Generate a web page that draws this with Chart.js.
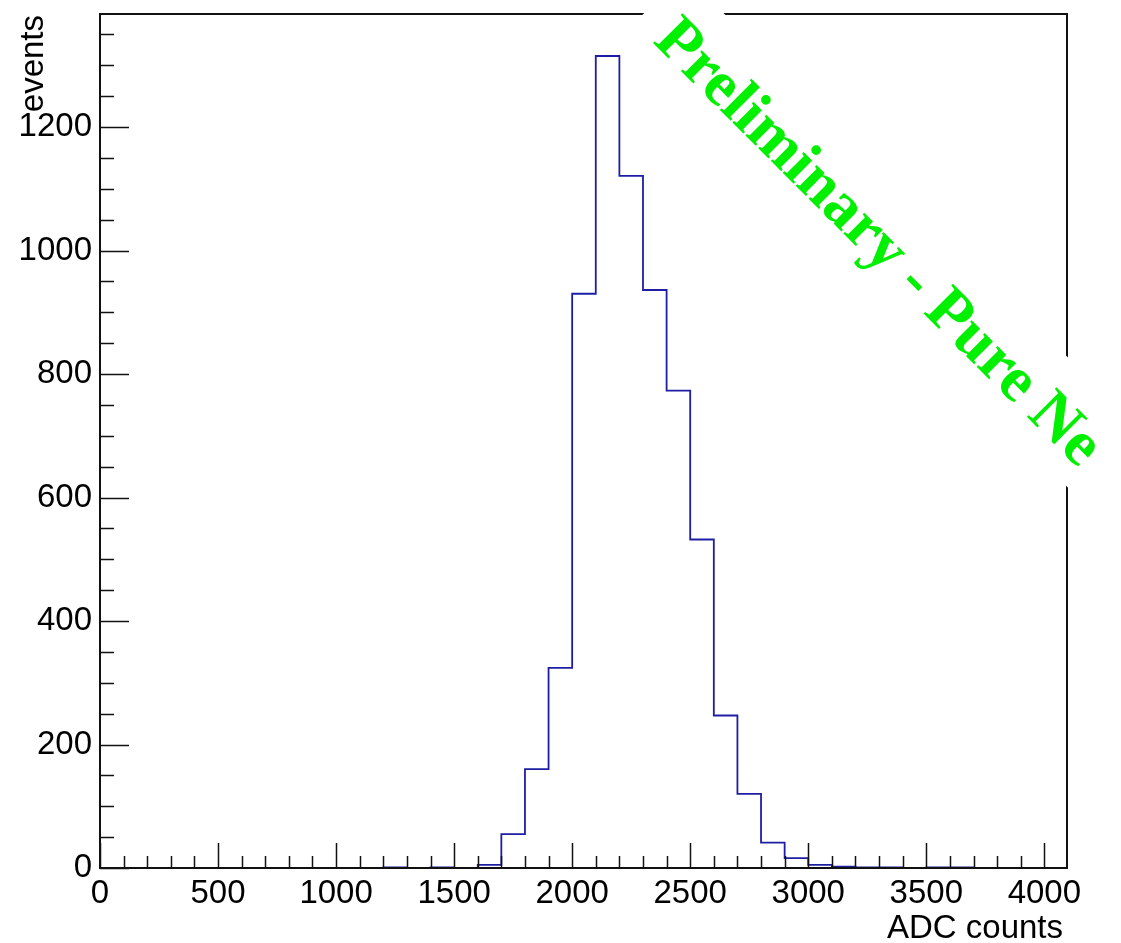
<!DOCTYPE html>
<html>
  <head>
    <title>ADC counts</title>
    <script src="https://cdn.jsdelivr.net/npm/chart.js"></script>
    <style>
      body {
        margin: 0;
        background: #fff;
      }
    </style>
  </head>
  <body>
    <canvas id="myChart" width="1121" height="943"></canvas>

    <script>
      // bin edges (ADC counts) and entries per bin
      const binEdges = [
        0, 100, 200, 300, 400, 500, 600, 700, 800, 900, 1000, 1100, 1200, 1300,
        1400, 1500, 1600, 1700, 1800, 1900, 2000, 2100, 2200, 2300, 2400, 2500,
        2600, 2700, 2800, 2900, 3000, 3100, 3200, 3300, 3400, 3500, 3600, 3700,
        3800, 3900, 4000, 4096,
      ];
      const counts = [
        0, 0, 0, 0, 0, 0, 0, 0, 0, 0, 0, 0, 1, 0, 1, 0, 5, 55, 160, 324, 930,
        1315, 1121, 936, 773, 532, 247, 120, 41, 16, 5, 2, 1, 1, 0, 1, 1, 0, 0,
        0, 0,
      ];
      const xTicks = [0, 500, 1000, 1500, 2000, 2500, 3000, 3500, 4000];
      const yTicks = [0, 200, 400, 600, 800, 1000, 1200];

      const xTitle = "ADC counts";
      const yTitle = "events";
      const stamp = "Preliminary - Pure Ne";

      // histogram outline: point at each low edge, held until the next edge
      const points = binEdges.map((e, i) => ({
        x: e,
        y: i < counts.length ? counts[i] : 0,
      }));

      const labelFont = { family: "'Liberation Sans', Arial, sans-serif", size: 33 };

      // ROOT-like frame, inside ticks, titles and the green stamp
      const rootFrame = {
        id: "rootFrame",
        afterDatasetsDraw(chart) {
          const { ctx, chartArea: a, scales } = chart;
          const x = scales.x;
          const y = scales.y;
          ctx.save();
          ctx.strokeStyle = "#111";
          ctx.lineWidth = 1.5;
          ctx.beginPath();
          for (let v = 0; v <= x.max; v += 100) {
            const px = Math.round(x.getPixelForValue(v)) + 0.5;
            const len = v % 500 === 0 ? 25 : 12;
            ctx.moveTo(px, a.bottom);
            ctx.lineTo(px, a.bottom - len);
          }
          for (let v = 0; v <= y.max; v += 50) {
            const py = Math.round(y.getPixelForValue(v)) + 0.5;
            const len = v % 200 === 0 ? 29 : 14;
            ctx.moveTo(a.left, py);
            ctx.lineTo(a.left + len, py);
          }
          ctx.stroke();
          ctx.lineWidth = 2;
          ctx.strokeRect(a.left, a.top, a.right - a.left, a.bottom - a.top);
          ctx.restore();
        },
        afterDraw(chart) {
          const { ctx, chartArea: a } = chart;
          ctx.save();
          ctx.fillStyle = "#000";
          ctx.font = "33px 'Liberation Sans', Arial, sans-serif";
          ctx.textAlign = "right";
          ctx.textBaseline = "alphabetic";
          ctx.fillText(xTitle, a.right - 4, 938);

          ctx.save();
          ctx.translate(43, a.top + 1);
          ctx.rotate(-Math.PI / 2);
          ctx.fillText(yTitle, 0, 0);
          ctx.restore();

          // stamp with white box behind it
          ctx.translate(652, 42);
          ctx.rotate(Math.PI / 4);
          ctx.fillStyle = "#fff";
          ctx.fillRect(-26, -71, 681, 92);
          ctx.fillStyle = "rgb(0, 240, 0)";
          ctx.font = "bold 64px 'Liberation Serif', 'Times New Roman', serif";
          ctx.textAlign = "left";
          ctx.fillText(stamp, 0, 0);
          ctx.restore();
        },
      };

      const ctx = document.getElementById("myChart").getContext("2d");
      const chart = new Chart(ctx, {
        type: "line",
        data: {
          datasets: [
            {
              label: yTitle,
              data: points,
              stepped: "before",
              borderColor: "#1e1ea4",
              borderWidth: 1.8,
              pointRadius: 0,
              fill: false,
            },
          ],
        },
        options: {
          responsive: false,
          animation: false,
          layout: { padding: { top: 14, right: 54, left: 0, bottom: 0 } },
          plugins: {
            legend: { display: false },
            tooltip: { enabled: false },
          },
          scales: {
            x: {
              type: "linear",
              min: 0,
              max: 4096,
              afterBuildTicks: (s) => {
                s.ticks = xTicks.map((v) => ({ value: v }));
              },
              afterFit: (s) => {
                s.height = 75;
                s.paddingLeft = 0;
                s.paddingRight = 0;
              },
              grid: { display: false, drawTicks: false },
              border: { display: false },
              ticks: {
                color: "#000",
                font: labelFont,
                padding: 6,
                maxRotation: 0,
                callback: (v) => String(v),
              },
            },
            y: {
              min: 0,
              max: 1383,
              afterBuildTicks: (s) => {
                s.ticks = yTicks.map((v) => ({ value: v }));
              },
              afterFit: (s) => {
                s.width = 100;
                s.paddingTop = 0;
                s.paddingBottom = 0;
              },
              grid: { display: false, drawTicks: false },
              border: { display: false },
              ticks: {
                color: "#000",
                font: labelFont,
                padding: 8,
                callback: (v) => String(v),
              },
            },
          },
        },
        plugins: [rootFrame],
      });
    </script>
  </body>
</html>
